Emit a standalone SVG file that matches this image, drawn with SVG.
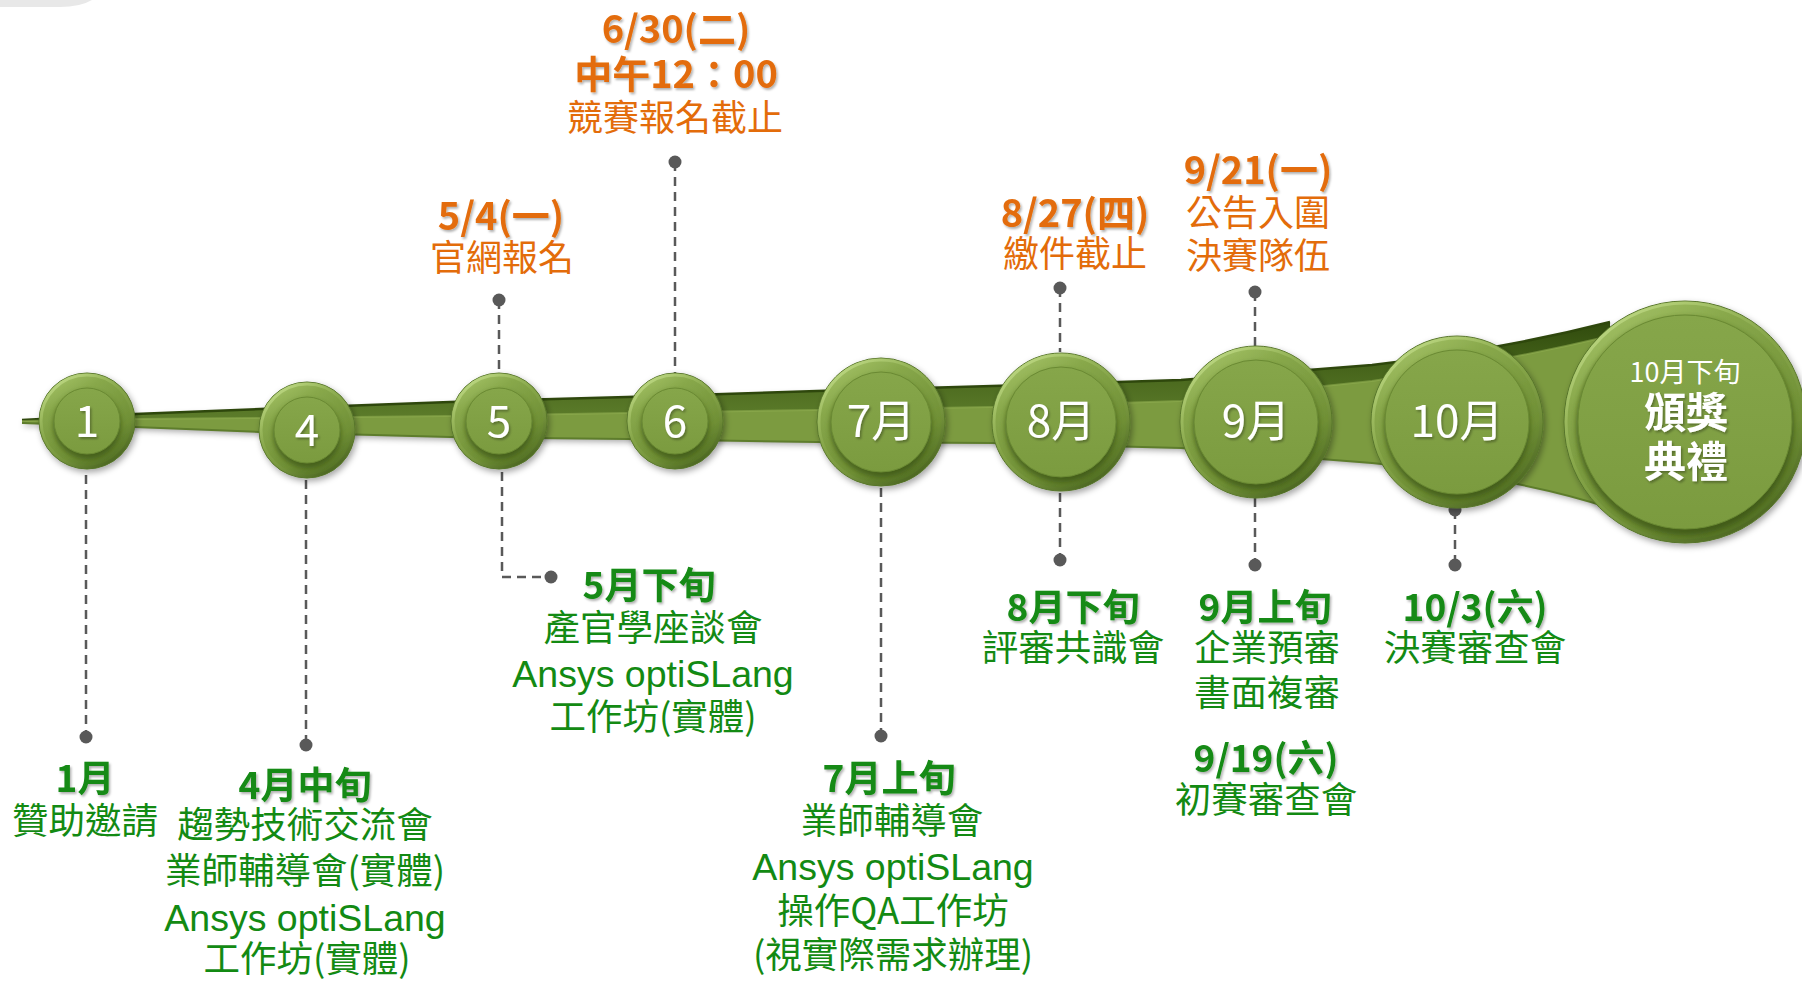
<svg xmlns="http://www.w3.org/2000/svg" width="1802" height="981" viewBox="0 0 1802 981">
<defs>
<linearGradient id="gOuter" x1="0.2" y1="0" x2="0.8" y2="1">
<stop offset="0" stop-color="#a6c468"/>
<stop offset="0.25" stop-color="#88a84b"/>
<stop offset="0.7" stop-color="#6f8f35"/>
<stop offset="1" stop-color="#4b6720"/>
</linearGradient>
<linearGradient id="gRim" x1="0.15" y1="0" x2="0.85" y2="1">
<stop offset="0" stop-color="#c6e08e" stop-opacity="0.9"/>
<stop offset="0.45" stop-color="#9cbb5c" stop-opacity="0.2"/>
<stop offset="1" stop-color="#3f5918" stop-opacity="0.9"/>
</linearGradient>
<linearGradient id="gInner" x1="0" y1="0" x2="0" y2="1">
<stop offset="0" stop-color="#86a64a"/>
<stop offset="1" stop-color="#7b9b3f"/>
</linearGradient>
<linearGradient id="gBandTop" x1="0" y1="0" x2="0" y2="1">
<stop offset="0" stop-color="#304b0d"/>
<stop offset="0.5" stop-color="#48661c"/>
<stop offset="1" stop-color="#5d7d2b"/>
</linearGradient>
<filter id="shadow" x="-20%" y="-20%" width="140%" height="150%">
<feDropShadow dx="2" dy="3" stdDeviation="3" flood-color="#000" flood-opacity="0.35"/>
</filter>
<filter id="blur" x="-20%" y="-20%" width="140%" height="140%">
<feGaussianBlur stdDeviation="2.5"/>
</filter>
<filter id="ts" x="-10%" y="-20%" width="120%" height="150%">
<feDropShadow dx="1.5" dy="2" stdDeviation="1" flood-color="#000" flood-opacity="0.3"/>
</filter>
</defs>
<style>
text{font-family:"Noto Sans CJK TC","Noto Sans",sans-serif;text-anchor:middle}
.o{fill:#e36c0a;font-size:36px}
.ob{fill:#e36c0a;font-size:38px;font-weight:700;filter:url(#ts)}
.g{fill:#138a13;font-size:36.5px}
.gb{fill:#138a13;font-size:37px;font-weight:700;filter:url(#ts)}
.lat{font-family:"Liberation Sans",Arial,sans-serif;font-size:37.5px}
.w{fill:#ffffff;font-size:44px;filter:url(#ts)}
.ws{fill:#ffffff;font-size:27px}
.wb{fill:#ffffff;font-size:42px;font-weight:700;filter:url(#ts)}
.dash{fill:none;stroke:#595959;stroke-width:2.5;stroke-dasharray:9 6}
.dot{fill:#595959}
.outer{fill:url(#gOuter);stroke:#56742a;stroke-width:1;filter:url(#shadow)}
.rim{fill:none;stroke:url(#gRim);stroke-width:3}
.ish{fill:#334a10;opacity:0.6;filter:url(#blur)}
.inner{fill:url(#gInner);stroke:#6a8a33;stroke-width:1}
</style>
<rect width="1802" height="981" fill="#ffffff"/>
<path d="M0 0 H92 Q80 7 60 7 H0 Z" fill="#e8e8e8"/>

<g id="connectors">
<line x1="22" y1="421" x2="45" y2="421" stroke="#7a7a7a" stroke-width="2"/>
<path id="band" d="M22 420 L135 414 L260 409 L450 402 L627 397 L817 391 L992 386 L1181 380 L1372 365 Q1500 350 1610 322 L1610 508 Q1520 478 1372 463 L1181 448 L992 443 L817 442 L627 439 L450 437 L260 432 L135 427 L22 423 Z" fill="#7b9b3f" filter="url(#shadow)"/>
<path d="M22 420 L135 414 L260 409 L450 402 L627 397 L817 391 L992 386 L1181 380 L1372 365 Q1500 350 1610 322 L1610 336 Q1500 362 1372 381 L1181 401 L992 407 L817 410 L627 413 L450 416 L260 418 L135 419 L22 421 Z" fill="url(#gBandTop)"/>
<path d="M22 420 L135 414 L260 409 L450 402 L627 397 L817 391 L992 386 L1181 380 L1372 365 Q1500 350 1610 322" fill="none" stroke="#2e470c" stroke-width="2.5"/>
<path d="M22 421 L135 419 L260 418 L450 416 L627 413 L817 410 L992 407 L1181 401 L1372 381 Q1500 362 1610 336" fill="none" stroke="#8fae50" stroke-width="2" opacity="0.6"/>
<path d="M22 423 L135 427 L260 432 L450 437 L627 439 L817 442 L992 443 L1181 448 L1372 463 Q1520 478 1610 508" fill="none" stroke="#5e7d2c" stroke-width="2"/>

<polyline class="dash" points="86,475 86,737"/>
<circle class="dot" cx="86" cy="737" r="6.5"/>
<polyline class="dash" points="306,480 306,745"/>
<circle class="dot" cx="306" cy="745" r="6.5"/>
<polyline class="dash" points="499,300 499,372"/>
<circle class="dot" cx="499" cy="300" r="6.5"/>
<polyline class="dash" points="502,472 502,577 551,577"/>
<circle class="dot" cx="551" cy="577" r="6.5"/>
<polyline class="dash" points="675,162 675,373"/>
<circle class="dot" cx="675" cy="162" r="6.5"/>
<polyline class="dash" points="881,488 881,736"/>
<circle class="dot" cx="881" cy="736" r="6.5"/>
<polyline class="dash" points="1060,288 1060,352"/>
<circle class="dot" cx="1060" cy="288" r="6.5"/>
<polyline class="dash" points="1060,493 1060,560"/>
<circle class="dot" cx="1060" cy="560" r="6.5"/>
<polyline class="dash" points="1255,292 1255,346"/>
<circle class="dot" cx="1255" cy="292" r="6.5"/>
<polyline class="dash" points="1255,498 1255,565"/>
<circle class="dot" cx="1255" cy="565" r="6.5"/>
<polyline class="dash" points="1455,510 1455,565"/>
<circle class="dot" cx="1455" cy="565" r="6.5"/>
<circle class="dot" cx="1455" cy="510" r="6.5"/>
</g>

<g id="node-1">
<circle class="outer" cx="87" cy="421" r="48"/>
<circle class="rim" cx="87" cy="421" r="46"/>
<circle class="ish" cx="87" cy="425" r="34"/>
<circle class="inner" cx="87" cy="421" r="33"/>
<text class="w" x="87" y="437">1</text>
</g>
<g id="node-4">
<circle class="outer" cx="307" cy="430" r="48"/>
<circle class="rim" cx="307" cy="430" r="46"/>
<circle class="ish" cx="307" cy="434" r="34"/>
<circle class="inner" cx="307" cy="430" r="33"/>
<text class="w" x="307" y="446">4</text>
</g>
<g id="node-5">
<circle class="outer" cx="499" cy="421" r="48"/>
<circle class="rim" cx="499" cy="421" r="46"/>
<circle class="ish" cx="499" cy="425" r="34"/>
<circle class="inner" cx="499" cy="421" r="33"/>
<text class="w" x="499" y="437">5</text>
</g>
<g id="node-6">
<circle class="outer" cx="675" cy="421" r="48"/>
<circle class="rim" cx="675" cy="421" r="46"/>
<circle class="ish" cx="675" cy="425" r="34"/>
<circle class="inner" cx="675" cy="421" r="33"/>
<text class="w" x="675" y="437">6</text>
</g>
<g id="node-7">
<circle class="outer" cx="881" cy="422" r="64"/>
<circle class="rim" cx="881" cy="422" r="62"/>
<circle class="ish" cx="881" cy="426" r="51"/>
<circle class="inner" cx="881" cy="422" r="50"/>
<text class="w" x="881" y="437">7月</text>
</g>
<g id="node-8">
<circle class="outer" cx="1061" cy="422" r="69"/>
<circle class="rim" cx="1061" cy="422" r="67"/>
<circle class="ish" cx="1061" cy="426" r="56"/>
<circle class="inner" cx="1061" cy="422" r="55"/>
<text class="w" x="1061" y="437">8月</text>
</g>
<g id="node-9">
<circle class="outer" cx="1256" cy="422" r="76"/>
<circle class="rim" cx="1256" cy="422" r="74"/>
<circle class="ish" cx="1256" cy="426" r="63"/>
<circle class="inner" cx="1256" cy="422" r="62"/>
<text class="w" x="1256" y="437">9月</text>
</g>
<g id="node-10">
<circle class="outer" cx="1457" cy="422" r="86"/>
<circle class="rim" cx="1457" cy="422" r="84"/>
<circle class="ish" cx="1457" cy="426" r="73"/>
<circle class="inner" cx="1457" cy="422" r="72"/>
<text class="w" x="1457" y="437">10月</text>
</g>
<g id="node-award">
<circle class="outer" cx="1685" cy="422" r="121"/>
<circle class="rim" cx="1685" cy="422" r="119"/>
<circle class="ish" cx="1685" cy="426" r="109"/>
<circle class="inner" cx="1685" cy="422" r="107"/>
<text class="ws" x="1685" y="382">10月下旬</text>
<text class="wb" x="1686" y="428">頒獎</text>
<text class="wb" x="1686" y="477">典禮</text>
</g>

<g id="label-0504">
<text class="ob" x="501" y="230">5/4(一)</text>
<text class="o" x="502" y="271">官網報名</text>
</g>
<g id="label-0630">
<text class="ob" x="676" y="43">6/30(二)</text>
<text class="ob" x="676" y="88">中午12：00</text>
<text class="o" x="675" y="131">競賽報名截止</text>
</g>
<g id="label-0827">
<text class="ob" x="1075" y="227">8/27(四)</text>
<text class="o" x="1075" y="267">繳件截止</text>
</g>
<g id="label-0921">
<text class="ob" x="1258" y="184">9/21(一)</text>
<text class="o" x="1258" y="226">公告入圍</text>
<text class="o" x="1258" y="269">決賽隊伍</text>
</g>

<g id="label-jan">
<text class="gb" x="85" y="792">1月</text>
<text class="g" x="85" y="834">贊助邀請</text>
</g>
<g id="label-apr">
<text class="gb" x="305" y="799">4月中旬</text>
<text class="g" x="305" y="838">趨勢技術交流會</text>
<text class="g" x="305" y="884">業師輔導會(實體)</text>
<text class="g lat" x="305" y="931">Ansys optiSLang</text>
<text class="g" x="307" y="972">工作坊(實體)</text>
</g>
<g id="label-may">
<text class="gb" x="649" y="599">5月下旬</text>
<text class="g" x="653" y="641">產官學座談會</text>
<text class="g lat" x="653" y="687">Ansys optiSLang</text>
<text class="g" x="653" y="730">工作坊(實體)</text>
</g>
<g id="label-jul">
<text class="gb" x="889" y="792">7月上旬</text>
<text class="g" x="892" y="834">業師輔導會</text>
<text class="g lat" x="893" y="880">Ansys optiSLang</text>
<text class="g" x="893" y="924">操作QA工作坊</text>
<text class="g" x="893" y="968">(視實際需求辦理)</text>
</g>
<g id="label-aug">
<text class="gb" x="1073" y="621">8月下旬</text>
<text class="g" x="1073" y="661">評審共識會</text>
</g>
<g id="label-sep">
<text class="gb" x="1265" y="621">9月上旬</text>
<text class="g" x="1267" y="661">企業預審</text>
<text class="g" x="1267" y="706">書面複審</text>
<text class="gb" x="1266" y="772">9/19(六)</text>
<text class="g" x="1266" y="813">初賽審查會</text>
</g>
<g id="label-oct">
<text class="gb" x="1475" y="621">10/3(六)</text>
<text class="g" x="1475" y="661">決賽審查會</text>
</g>
</svg>
